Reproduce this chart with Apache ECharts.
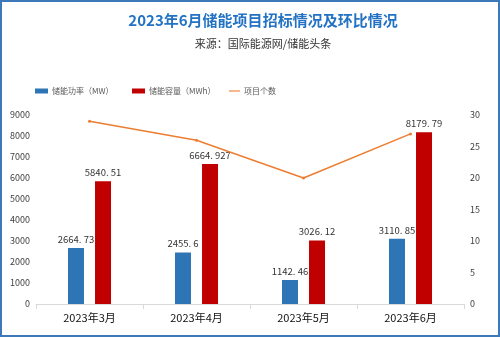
<!DOCTYPE html>
<html><head><meta charset="utf-8">
<script src="https://cdn.jsdelivr.net/npm/echarts@6/dist/echarts.min.js"></script>
<style>
html,body{margin:0;padding:0;background:#fff;}
#c{width:500px;height:337px;box-sizing:border-box;border:2px solid #3D79B9;}
</style></head>
<body><div id="c"></div>
<script>
const categories = ['2023年3月','2023年4月','2023年5月','2023年6月'];
const powerMW = [2664.73, 2455.6, 1142.46, 3110.85];
const capacityMWh = [5840.51, 6664.927, 3026.12, 8179.79];
const projectCount = [29, 26, 20, 27];
const leftTicks = {min:0, max:9000, interval:1000};
const rightTicks = {min:0, max:30, interval:5};

const CJK = '"Noto Sans CJK SC", "Noto Sans", sans-serif';
const fmt = p => String(p.value).replace('.', '. ');
const chart = echarts.init(document.getElementById('c'));
chart.setOption({
  animation:false,
  textStyle:{fontFamily:CJK},
  title:[
    {text:'2023年6月储能项目招标情况及环比情况', left:256, top:6, textAlign:'center',
     textStyle:{color:'#2372C4', fontSize:15, fontWeight:'bold', fontFamily:CJK}},
    {text:'来源：国际能源网/储能头条', left:256, top:31, textAlign:'center',
     textStyle:{color:'#333', fontSize:11, fontWeight:'normal', fontFamily:CJK}}
  ],
  legend:[
    {data:[{name:'储能功率（MW）', icon:'rect'}], left:28, top:80, itemWidth:13, itemHeight:5, itemGap:4,
     textStyle:{fontSize:8, color:'#595959', padding:[0,0,0,-1]}},
    {data:[{name:'储能容量（MWh）', icon:'rect'}], left:125, top:80, itemWidth:13, itemHeight:5,
     textStyle:{fontSize:8, color:'#595959', padding:[0,0,0,-1]}},
    {data:[{name:'项目个数', icon:'path://M0,0H20V2H0Z'}], left:222, top:80, itemWidth:11, itemHeight:2,
     textStyle:{fontSize:8, color:'#595959', padding:[0,0,0,-1]}}
  ],
  grid:{left:34, right:34, top:113, bottom:31},
  xAxis:{type:'category', data:categories, boundaryGap:true,
    axisLine:{lineStyle:{color:'#D9D9D9'}},
    axisTick:{show:true, length:5, lineStyle:{color:'#D9D9D9'}},
    axisLabel:{color:'#111', fontSize:11, fontWeight:'normal', margin:8, fontFamily:CJK}},
  yAxis:[
    {type:'value', min:leftTicks.min, max:leftTicks.max, interval:leftTicks.interval,
     splitLine:{show:false}, axisLine:{show:false}, axisTick:{show:false},
     axisLabel:{color:'#404040', fontSize:9, margin:6, formatter:v => String(v)}},
    {type:'value', min:rightTicks.min, max:rightTicks.max, interval:rightTicks.interval,
     splitLine:{show:false}, axisLine:{show:false}, axisTick:{show:false},
     axisLabel:{color:'#404040', fontSize:9, margin:6, formatter:v => String(v)}}
  ],
  series:[
    {name:'储能功率（MW）', type:'bar', data:powerMW, barWidth:16, barGap:'69%',
     itemStyle:{color:'#2E75B6'},
     label:{show:true, position:'top', distance:4, fontSize:9.5, color:'#333', formatter:fmt}},
    {name:'储能容量（MWh）', type:'bar', data:capacityMWh, barWidth:16,
     itemStyle:{color:'#C00000'},
     label:{show:true, position:'top', distance:4, fontSize:9.5, color:'#333', formatter:fmt}},
    {name:'项目个数', type:'line', yAxisIndex:1, data:projectCount,
     symbol:'circle', symbolSize:3, lineStyle:{color:'#ED7D31', width:1.5},
     itemStyle:{color:'#ED7D31'}}
  ]
});
</script></body></html>
